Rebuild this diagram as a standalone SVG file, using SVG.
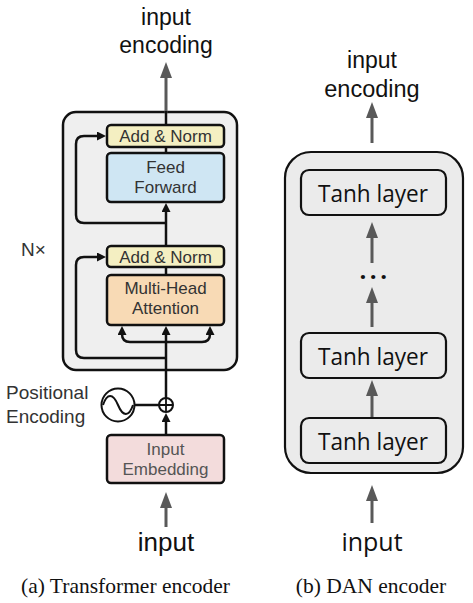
<svg xmlns="http://www.w3.org/2000/svg" width="473" height="603" viewBox="0 0 473 603">
<style>
.sans{font-family:"Liberation Sans",Arial,sans-serif}
.ob{font-family:"Open Sans","Noto Sans",sans-serif;fill:#111}
.serif{font-family:"Liberation Serif","Times New Roman",serif;fill:#111}
.lbl{font-size:17px;fill:#333;text-anchor:middle}
.big{fill:#111;text-anchor:middle}
.box{stroke:#111;stroke-width:2.5}
.gl{stroke:#595959;stroke-width:3;fill:none;marker-end:url(#ag)}
.bl{stroke:#111;stroke-width:2.5;fill:none}
.ba{stroke:#111;stroke-width:2.5;fill:none;marker-end:url(#ab)}
</style>
<defs>
<marker id="ag" markerUnits="userSpaceOnUse" markerWidth="16" markerHeight="12" refX="0" refY="6" orient="auto"><path d="M0,0 L16,6 L0,12 z" fill="#595959"/></marker>
<marker id="ab" markerUnits="userSpaceOnUse" markerWidth="9" markerHeight="9" refX="1" refY="4.5" orient="auto"><path d="M0,0 L9,4.5 L0,9 z" fill="#111"/></marker>
</defs>
<rect width="473" height="603" fill="#fff"/>

<!-- Left: Transformer encoder -->
<g id="enc-block">
<rect x="63" y="112" width="174" height="258" rx="13" fill="#efefef" stroke="#111" stroke-width="2.5"/>
<text x="21" y="256" class="sans" font-size="19" fill="#333">N×</text>
</g>

<g id="connectors-left">
<line x1="166" y1="113" x2="166" y2="78" class="gl"/>
<line x1="166" y1="111" x2="166" y2="125" class="bl"/>
<line x1="166" y1="147" x2="166" y2="153" class="bl"/>
<line x1="166" y1="246" x2="166" y2="211" class="ba"/>
<path d="M166,223 L84,223 Q76,223 76,215 L76,144 Q76,136 84,136 L98,136" class="ba"/>
<line x1="166" y1="267" x2="166" y2="275" class="bl"/>
<line x1="166" y1="398" x2="166" y2="334" class="ba"/>
<path d="M166,358 L84,358 Q76,358 76,350 L76,265 Q76,257 84,257 L98,257" class="ba"/>
<path d="M166,342 L130,342 Q122,342 122,334" class="ba"/>
<path d="M166,342 L202,342 Q210,342 210,334" class="ba"/>
<line x1="134" y1="405" x2="159" y2="405" class="bl"/>
<line x1="166" y1="435" x2="166" y2="421" class="ba"/>
<line x1="166" y1="527" x2="166" y2="508" class="gl"/>
</g>

<g id="addnorm1">
<rect x="107" y="125" width="117" height="22" rx="4" fill="#f4efc2" class="box"/>
<text x="165.5" y="142" class="sans lbl">Add &amp; Norm</text>
</g>
<g id="feedforward">
<rect x="107" y="153" width="117" height="49" rx="4" fill="#cfe6f3" class="box"/>
<text x="165.5" y="173" class="sans lbl">Feed</text>
<text x="165.5" y="193" class="sans lbl">Forward</text>
</g>
<g id="addnorm2">
<rect x="107" y="246" width="117" height="21" rx="4" fill="#f4efc2" class="box"/>
<text x="165.5" y="263" class="sans lbl">Add &amp; Norm</text>
</g>
<g id="mha">
<rect x="107" y="275" width="117" height="50" rx="4" fill="#f8dab5" class="box"/>
<text x="165.5" y="294" class="sans lbl">Multi-Head</text>
<text x="165.5" y="314" class="sans lbl">Attention</text>
</g>
<g id="posenc">
<circle cx="118" cy="405" r="16.5" fill="#fff" stroke="#111" stroke-width="2"/>
<path d="M103,405 C107,393 113,393 118,405 C123,417 129,417 133,405" fill="none" stroke="#111" stroke-width="2"/>
<text x="6" y="399" class="sans" font-size="19" fill="#333">Positional</text>
<text x="6" y="423" class="sans" font-size="19" fill="#333">Encoding</text>
</g>
<g id="plus">
<circle cx="166" cy="405" r="7" fill="#fff" stroke="#111" stroke-width="2"/>
<path d="M166,399 V411 M160,405 H172" stroke="#111" stroke-width="1.8"/>
</g>
<g id="embedding">
<rect x="107" y="435" width="117" height="48" rx="4" fill="#f3dcdc" class="box"/>
<text x="165.5" y="455" class="sans lbl" fill="#555" style="fill:#555">Input</text>
<text x="165.5" y="475" class="sans lbl" style="fill:#555">Embedding</text>
</g>
<g id="labels-left">
<text x="166" y="25" class="sans big" font-size="23">input</text>
<text x="166" y="53" class="sans big" font-size="23">encoding</text>
<text x="166" y="551" class="sans big" font-size="26">input</text>
<text x="125.5" y="593" class="serif" font-size="21.5" text-anchor="middle">(a) Transformer encoder</text>
</g>

<!-- Right: DAN encoder -->
<g id="dan-block">
<rect x="285" y="152" width="178" height="321" rx="26" fill="#ebebeb" stroke="#111" stroke-width="2.2"/>
</g>
<g id="connectors-right">
<line x1="372" y1="143" x2="372" y2="118" class="gl"/>
<line x1="372" y1="263" x2="372" y2="238" class="gl"/>
<line x1="372" y1="327" x2="372" y2="303" class="gl"/>
<line x1="372" y1="418" x2="372" y2="396" class="gl"/>
<line x1="372" y1="523" x2="372" y2="501" class="gl"/>
</g>
<g id="tanh3">
<rect x="301" y="170" width="145" height="45" rx="8" fill="#ebebeb" stroke="#111" stroke-width="2.2"/>
<text x="373" y="202" class="ob" font-size="24" text-anchor="middle" textLength="110" lengthAdjust="spacingAndGlyphs">Tanh layer</text>
</g>
<g id="dots">
<text x="375" y="279" class="ob" font-size="24" font-weight="bold" text-anchor="middle" letter-spacing="3.5">...</text>
</g>
<g id="tanh2">
<rect x="301" y="333" width="145" height="45" rx="8" fill="#ebebeb" stroke="#111" stroke-width="2.2"/>
<text x="373" y="365" class="ob" font-size="24" text-anchor="middle" textLength="110" lengthAdjust="spacingAndGlyphs">Tanh layer</text>
</g>
<g id="tanh1">
<rect x="301" y="418" width="145" height="45" rx="8" fill="#ebebeb" stroke="#111" stroke-width="2.2"/>
<text x="373" y="450" class="ob" font-size="24" text-anchor="middle" textLength="110" lengthAdjust="spacingAndGlyphs">Tanh layer</text>
</g>
<g id="labels-right">
<text x="372" y="68" class="sans big" font-size="23">input</text>
<text x="372" y="97" class="sans big" font-size="23.5">encoding</text>
<text x="372" y="551" class="ob" font-size="25" text-anchor="middle">input</text>
<text x="371" y="593" class="serif" font-size="21.5" text-anchor="middle">(b) DAN encoder</text>
</g>
</svg>
